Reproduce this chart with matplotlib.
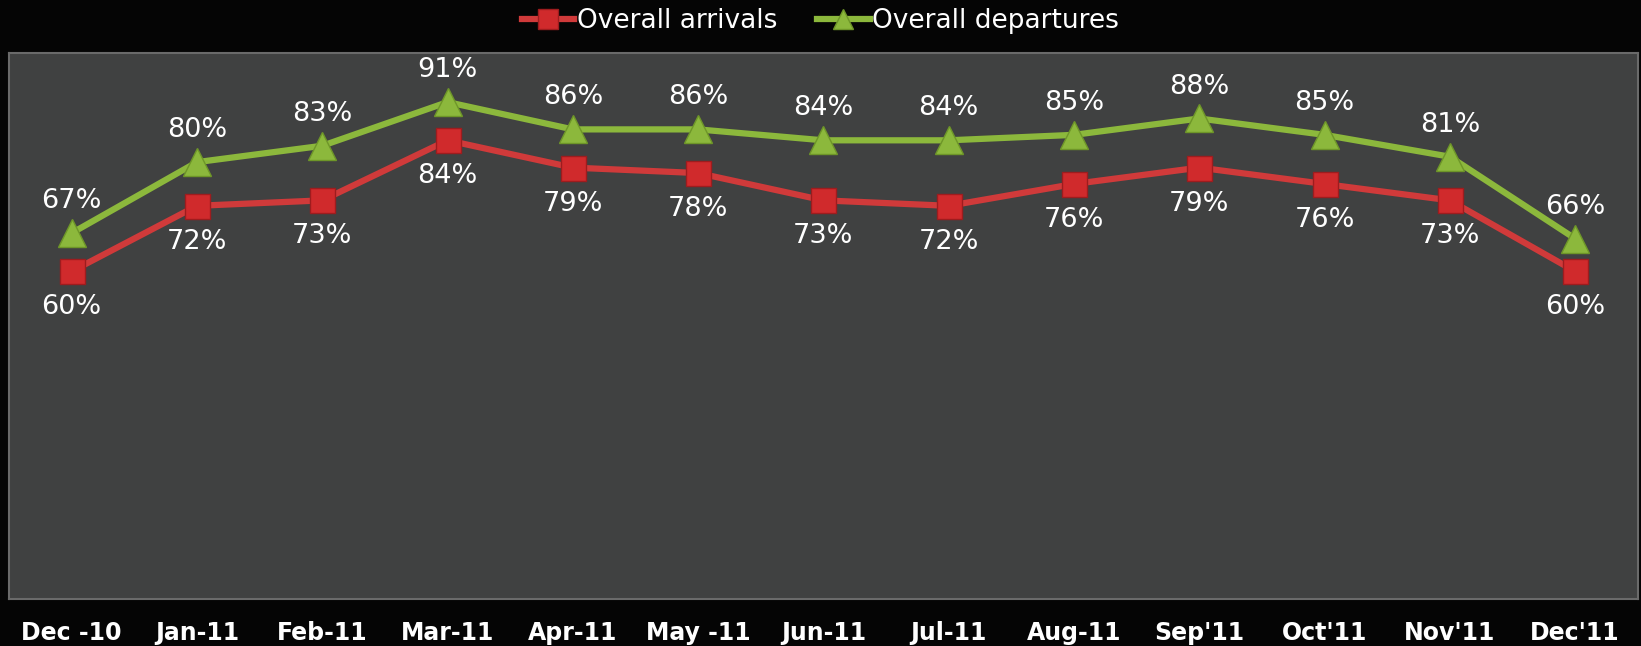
import matplotlib
matplotlib.use('Agg')
import matplotlib.pyplot as plt

# Monthly on-time performance
months = ['Dec -10', 'Jan-11', 'Feb-11', 'Mar-11', 'Apr-11', 'May -11', 'Jun-11',
          'Jul-11', 'Aug-11', "Sep'11", "Oct'11", "Nov'11", "Dec'11"]
arrivals = [60, 72, 73, 84, 79, 78, 73, 72, 76, 79, 76, 73, 60]
departures = [67, 80, 83, 91, 86, 86, 84, 84, 85, 88, 85, 81, 66]

red = '#d03a3a'
green = '#8cb83c'

fig = plt.figure(figsize=(16.41, 6.46), dpi=100, facecolor='#050505')
ax = fig.add_axes([0.0055, 0.073, 0.9925, 0.845])
ax.set_facecolor('#404141')

x = range(len(months))
ax.plot(x, arrivals, color=red, linewidth=4.5, marker='s', markersize=18,
        markerfacecolor='#d02a2c', markeredgecolor='#9e1c1e', markeredgewidth=1,
        label='Overall arrivals', zorder=3)
ax.plot(x, departures, color=green, linewidth=4.5, marker='^', markersize=20,
        markerfacecolor='#8cb83c', markeredgecolor='#6e9628', markeredgewidth=1,
        label='Overall departures', zorder=3)

for i in x:
    ax.annotate(f'{departures[i]}%', (i, departures[i]), textcoords='offset points',
                xytext=(0, 23), ha='center', va='center', fontsize=19.5, color='white')
    ax.annotate(f'{arrivals[i]}%', (i, arrivals[i]), textcoords='offset points',
                xytext=(0, -26), ha='center', va='center', fontsize=19.5, color='white')

ax.set_xlim(-0.5, len(months) - 0.5)
ax.set_ylim(0, 100)
ax.set_xticks(list(x))
ax.set_xticklabels(months, fontsize=17, fontweight='bold', color='white')
ax.set_yticks([])
ax.tick_params(axis='x', length=0, pad=16)
for s in ax.spines.values():
    s.set_color('#6a6a6a')
    s.set_linewidth(1.5)

leg = fig.legend(loc='center', bbox_to_anchor=(0.5, 0.967), ncol=2, frameon=False,
                 fontsize=19, handlelength=2.0, columnspacing=1.5, handletextpad=0.1,
                 labelcolor='white')
for h in leg.legend_handles:
    h.set_markersize(14)

plt.savefig('out.png', dpi=100, facecolor=fig.get_facecolor())
